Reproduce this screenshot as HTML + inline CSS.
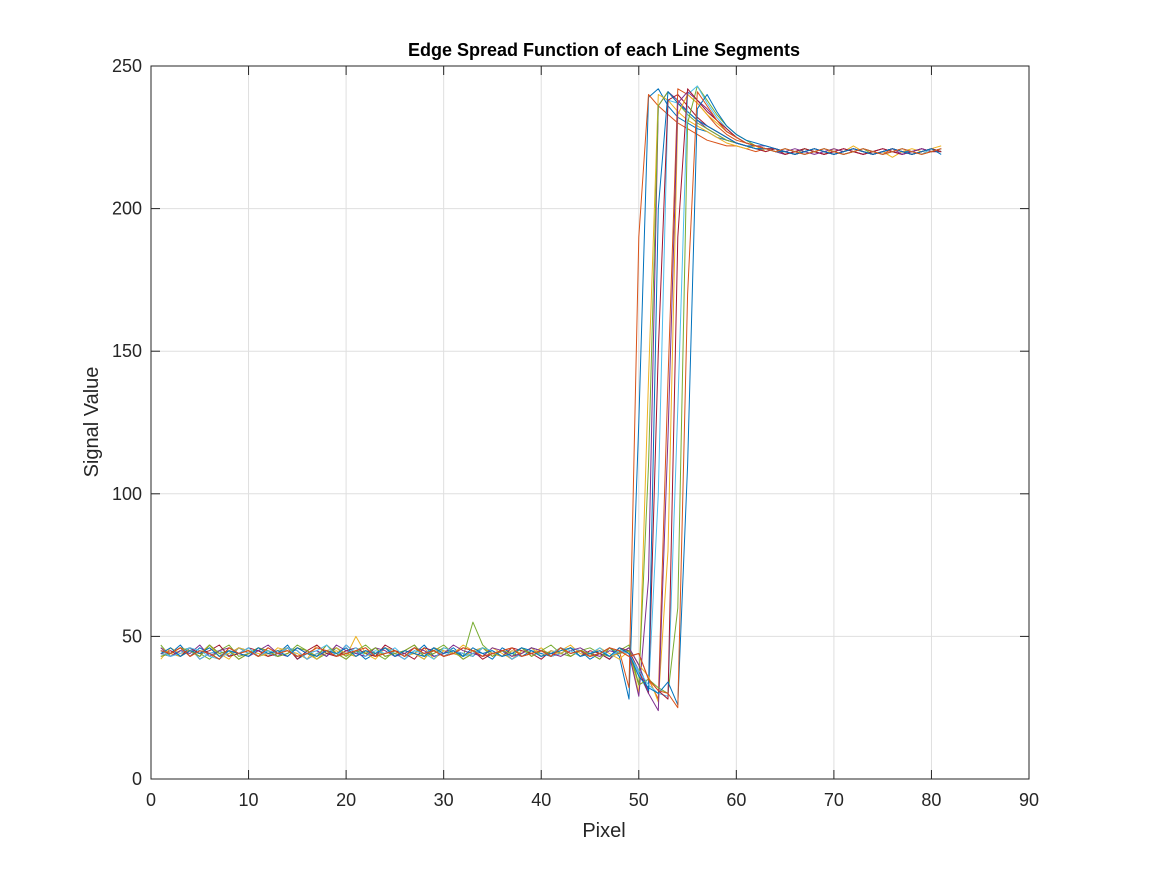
<!DOCTYPE html>
<html><head><meta charset="utf-8"><style>
body{margin:0;background:#fff;}
svg{display:block;font-family:"Liberation Sans",Arial,sans-serif;}
</style></head><body>
<svg id="chart" width="1167" height="875">
<rect x="0" y="0" width="1167" height="875" fill="#fff"/>
<rect x="151" y="66" width="878" height="713" fill="#fff"/>
<g id="grid"></g>
<g id="lines"></g>
<rect x="151" y="66" width="878" height="713" fill="none" stroke="#262626" stroke-width="1"/>
<g id="ticks"></g>
<text x="604" y="56" text-anchor="middle" font-size="18" font-weight="bold" fill="#000">Edge Spread Function of each Line Segments</text>
<text x="604" y="837" text-anchor="middle" font-size="20" fill="#262626">Pixel</text>
<text transform="translate(98,422) rotate(-90)" text-anchor="middle" font-size="20" fill="#262626">Signal Value</text>
</svg>
<script>
const xTicks=[0,10,20,30,40,50,60,70,80,90];
const yTicks=[0,50,100,150,200,250];
const colors=["#0072BD","#D95319","#EDB120","#7E2F8E","#77AC30","#4DBEEE","#A2142F"];
const s1=[45,44,47,43,46,44,42,45,44,46,43,45,44,47,42,44,45,43,46,44,45,42,44,46,43,45,44,47,43,44,46,43,45,44,42,46,44,43,45,44,43,46,44,45,42,44,46,43,28,125,239,242,236,232,230,228,227,225,224,223,222,222,221,221,220,219,220,221,220,219,220,221,220,219,220,221,220,220,221,220,221];
const s2=[42,46,44,45,43,47,44,42,46,45,44,43,46,45,44,42,47,44,45,43,50,44,42,46,45,43,44,46,42,45,44,47,45,43,46,44,42,45,44,46,43,45,47,44,43,46,44,42,45,30,140,240,238,234,231,229,227,225,223,222,221,222,220,221,219,220,221,220,219,221,220,222,220,219,220,218,220,221,220,221,222];
const s3=[47,43,45,46,44,42,45,47,43,44,46,45,43,44,47,45,42,44,46,43,45,47,44,42,45,44,46,43,45,47,44,43,55,47,44,45,43,46,44,45,47,44,43,45,46,44,43,45,47,33,110,236,241,237,233,230,228,226,224,223,222,221,221,220,220,219,221,220,221,220,219,220,221,219,220,221,220,219,220,221,220];
const s4=[44,45,43,46,44,45,47,43,44,46,45,43,44,46,42,45,47,44,43,45,46,44,43,47,45,44,42,46,45,43,44,46,45,42,44,43,46,45,44,42,45,44,46,43,45,44,42,46,45,38,30,150,238,240,236,232,229,227,225,223,222,221,220,221,219,220,221,220,219,220,221,220,219,220,221,220,219,220,221,220,220];
const s5=[43,44,46,45,43,47,44,45,42,44,46,45,43,44,46,45,43,47,44,42,45,44,46,43,44,45,47,43,44,46,45,42,44,46,43,45,44,46,43,45,44,46,43,45,44,42,46,44,45,33,35,28,140,242,240,237,233,229,226,224,223,222,221,220,221,220,219,220,221,220,219,220,221,220,219,221,220,219,220,221,220];
const s6=[46,43,45,44,47,43,45,46,44,43,45,47,44,43,46,44,45,43,47,45,44,43,46,45,43,44,46,45,43,44,47,45,44,43,46,45,43,44,46,45,44,43,45,46,44,43,45,44,46,40,30,24,120,237,241,238,235,231,227,225,223,222,222,221,220,221,220,219,220,221,220,221,220,219,220,221,219,220,221,220,221];
const s7=[45,43,44,46,45,43,42,45,44,46,43,45,44,46,43,44,45,47,43,44,46,43,45,44,46,43,45,44,42,46,45,43,44,46,45,43,44,46,45,43,44,46,45,43,44,46,43,45,44,38,33,30,29,130,240,243,237,232,228,225,223,222,221,220,221,220,219,220,221,220,219,220,221,220,219,220,221,220,219,221,220];
const s8=[44,46,43,45,44,46,43,45,44,43,46,44,45,43,46,44,43,45,44,46,43,45,44,46,43,45,44,43,46,44,45,43,46,44,45,43,44,46,45,43,44,45,46,43,44,45,43,46,44,36,32,30,34,26,110,235,240,234,229,226,224,223,222,221,220,219,220,221,220,219,220,221,220,219,220,221,220,219,220,221,219];
const s9=[44,43,45,46,42,44,45,43,46,44,45,44,43,46,45,42,44,45,43,47,44,45,43,46,44,42,45,44,46,43,45,44,43,46,44,45,42,44,46,45,43,44,46,45,43,44,42,45,32,190,240,236,233,230,228,226,224,223,222,222,221,220,221,220,219,220,221,220,219,220,221,220,219,220,221,220,219,220,221,220,221];
const s10=[44,43,45,46,42,44,45,43,46,44,45,44,43,46,45,42,44,45,43,47,44,45,43,46,44,42,45,44,46,43,45,44,43,46,44,45,42,44,46,45,43,44,46,45,43,44,42,45,44,29,70,236,241,238,234,231,228,226,224,223,222,221,221,220,219,220,221,220,219,220,221,220,219,220,221,220,219,220,221,220,220];
const s11=[46,44,43,45,44,47,43,44,46,45,43,44,45,46,43,44,42,45,46,44,43,45,44,46,43,45,44,42,46,45,44,43,45,46,44,43,45,44,46,43,45,44,46,43,44,45,43,44,46,40,31,200,241,237,234,231,229,227,225,223,222,221,221,220,220,219,220,221,220,219,220,221,220,219,220,221,220,219,220,221,220];
const s12=[46,44,43,45,44,47,43,44,46,45,43,44,45,46,43,44,42,45,46,44,43,45,44,46,43,45,44,42,46,45,44,43,45,46,44,43,45,44,46,43,45,44,46,43,44,45,43,44,46,40,36,27,80,233,240,237,233,230,227,225,223,222,221,220,221,220,219,220,221,220,219,220,221,220,219,220,221,220,219,221,220];
const s13=[45,44,46,43,45,44,42,46,44,45,43,46,44,45,43,44,46,45,43,44,45,46,43,44,45,43,46,44,45,43,44,46,45,43,44,45,46,43,44,45,43,46,44,45,43,44,46,45,43,44,35,31,28,190,242,238,234,231,228,225,223,222,221,221,220,219,220,221,220,219,220,221,220,219,220,221,220,219,220,221,220];
const s14=[45,44,46,43,45,44,42,46,44,45,43,46,44,45,43,44,46,45,43,44,45,46,43,44,45,43,46,44,45,43,44,46,45,43,44,45,46,43,44,45,43,46,44,45,43,44,46,45,43,44,35,31,30,25,170,241,236,231,227,225,223,222,221,220,221,220,219,220,221,220,219,220,221,220,219,220,221,220,219,220,221];
const s15=[44,43,45,46,42,44,45,43,46,44,45,44,43,46,45,42,44,45,43,47,44,45,43,46,44,42,45,44,46,43,45,44,43,46,44,45,42,44,46,45,43,44,46,45,43,44,42,45,45,37,30,100,238,237,234,231,229,227,225,223,222,221,221,220,220,219,220,221,220,219,220,221,220,219,220,221,220,219,220,221,220];
const s16=[43,44,46,45,43,47,44,45,42,44,46,45,43,44,46,45,43,47,44,42,45,44,46,43,44,45,47,43,44,46,45,42,44,46,43,45,44,46,43,45,44,46,43,45,44,42,46,44,45,33,35,32,30,60,230,243,238,233,229,226,224,222,221,220,221,220,219,220,221,220,219,220,221,220,219,220,221,220,219,220,221];
const series=[s1,s9,s2,s10,s3,s15,s4,s11,s5,s12,s6,s16,s7,s13,s8,s14];
const X0=151,X1=1029,Y0=779,Y1=66;
const xs=v=>X0+(v-0)/(90-0)*(X1-X0);
const ys=v=>Y0-(v-0)/(250-0)*(Y0-Y1);
const NS="http://www.w3.org/2000/svg";
const grid=document.getElementById('grid'),ticks=document.getElementById('ticks'),lines=document.getElementById('lines');
function mk(t,a){const e=document.createElementNS(NS,t);for(const k in a)e.setAttribute(k,a[k]);return e;}
xTicks.forEach(v=>{
 const x=xs(v);
 const g=mk('line',{x1:x,x2:x,y1:Y1,y2:Y0,stroke:'#dfdfdf','stroke-width':1});
 
 
 grid.appendChild(g);
 const t=mk('line',{x1:x,x2:x,y1:Y0,y2:Y0-9,stroke:'#262626','stroke-width':1});
 
 
 ticks.appendChild(t);
 const t2=mk('line',{x1:x,x2:x,y1:Y1,y2:Y1+9,stroke:'#262626','stroke-width':1});
 
 
 ticks.appendChild(t2);
 const l=mk('text',{x:x,y:Y0+27,'text-anchor':'middle','font-size':18,fill:'#262626'});
 l.textContent=v;
 
 
 ticks.appendChild(l);
});
yTicks.forEach(v=>{
 const y=ys(v);
 const g=mk('line',{x1:X0,x2:X1,y1:y,y2:y,stroke:'#dfdfdf','stroke-width':1});
 
 
 grid.appendChild(g);
 const t=mk('line',{x1:X0,x2:X0+9,y1:y,y2:y,stroke:'#262626','stroke-width':1});
 
 
 ticks.appendChild(t);
 const t2=mk('line',{x1:X1,x2:X1-9,y1:y,y2:y,stroke:'#262626','stroke-width':1});
 
 
 ticks.appendChild(t2);
 const l=mk('text',{x:X0-9,y:y+6,'text-anchor':'end','font-size':18,fill:'#262626'});
 l.textContent=v;
 
 
 ticks.appendChild(l);
});
series.forEach((s,i)=>{
 const pts=s.map((v,j)=>xs(j+1).toFixed(1)+','+ys(v).toFixed(1)).join(' ');
 const p=mk('polyline',{points:pts,fill:'none',stroke:colors[i%colors.length],'stroke-width':1,'stroke-linejoin':'round'});
 
 
 lines.appendChild(p);
});
</script>
</body></html>
